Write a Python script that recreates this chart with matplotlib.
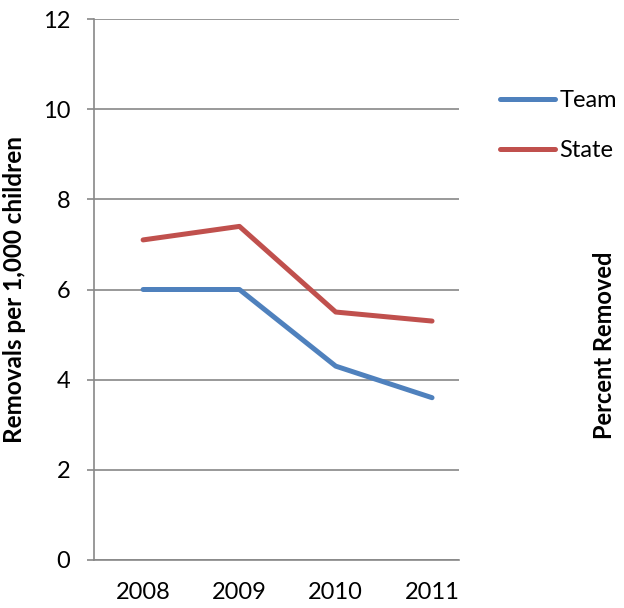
import matplotlib
matplotlib.use("Agg")
import matplotlib.pyplot as plt

years = ["2008", "2009", "2010", "2011"]
team = [6.0, 6.0, 4.3, 3.6]
state = [7.1, 7.4, 5.5, 5.3]

plt.rcParams['font.family'] = ['Lato', 'DejaVu Sans']

fig = plt.figure(figsize=(6.24, 6.08), dpi=100)
ax = fig.add_axes([94/624, 48/608, 365/624, 541/608])

x = list(range(len(years)))
ax.plot(x, team, color="#4F81BD", lw=3.6, label="Team", solid_capstyle="round")
ax.plot(x, state, color="#C0504D", lw=3.6, label="State", solid_capstyle="round")

ax.set_xlim(-0.51, 3.28)
ax.set_ylim(0, 12)
ax.set_yticks(range(0, 13, 2))
ax.set_xticks(x)
ax.set_xticklabels(years)
ax.tick_params(axis="both", labelsize=17, colors="black")
ax.tick_params(axis="y", length=5, color="#888888", width=1.2, pad=12)
ax.tick_params(axis="x", length=0, pad=16)
ax.grid(axis="y", color="#888888", lw=1.2)
ax.set_axisbelow(True)
for s in ["top", "right"]:
    ax.spines[s].set_visible(False)
for s in ["left", "bottom"]:
    ax.spines[s].set_color("#888888")
    ax.spines[s].set_linewidth(1.2)

ax.set_ylabel("Removals per 1,000 children", fontsize=17.5, fontweight="bold", labelpad=12)
fig.text(605/624, 1 - 345/608, "Percent Removed", rotation=90, fontsize=17,
         fontweight="bold", ha="center", va="center")

fig.legend(loc="upper left", bbox_to_anchor=(500/624, 1 - 90/608), frameon=False,
           fontsize=17, handlelength=2.35, handletextpad=0.17, labelspacing=1.22,
           borderpad=0, borderaxespad=0)

fig.savefig("out.png", dpi=100)
